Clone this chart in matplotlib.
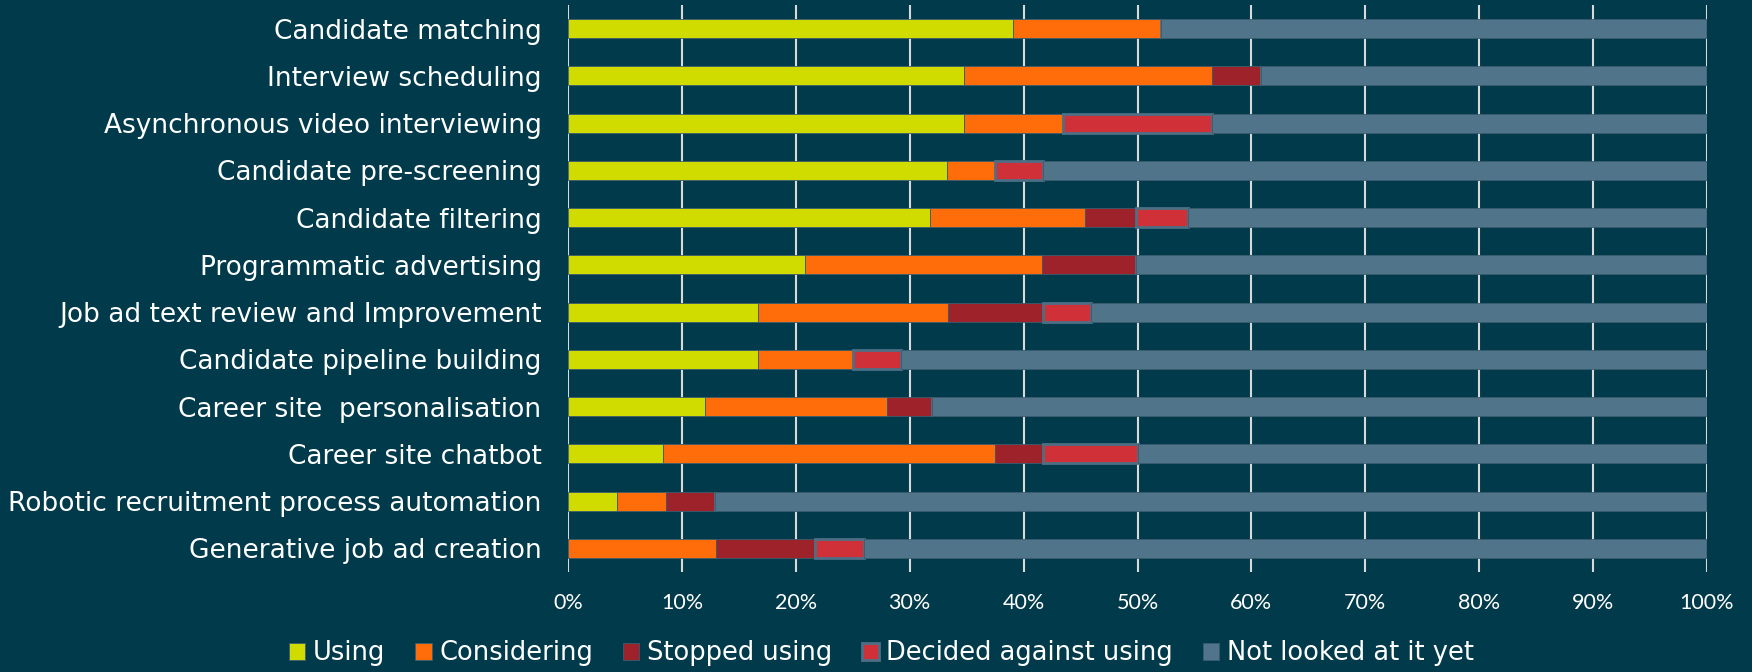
import numpy as np
import matplotlib
matplotlib.use('Agg')
import matplotlib.pyplot as plt
from matplotlib.ticker import PercentFormatter

# categories, top to bottom as in the chart
tasks = ['Candidate matching', 'Interview scheduling', 'Asynchronous video interviewing',
         'Candidate pre-screening', 'Candidate filtering', 'Programmatic advertising',
         'Job ad text review and Improvement', 'Candidate pipeline building',
         'Career site  personalisation', 'Career site chatbot',
         'Robotic recruitment process automation', 'Generative job ad creation']

# share of respondents (%) per answer
using = [39.1, 34.8, 34.8, 33.3, 31.8, 20.8, 16.7, 16.7, 12.0, 8.3, 4.3, 0.0]
considering = [13.0, 21.7, 8.7, 4.2, 13.6, 20.8, 16.7, 8.3, 16.0, 29.2, 4.3, 13.0]
stopped = [0.0, 4.3, 0.0, 0.0, 4.5, 8.3, 8.3, 0.0, 4.0, 4.2, 4.3, 8.7]
decided_against = [0.0, 0.0, 13.0, 4.2, 4.5, 0.0, 4.2, 4.2, 0.0, 8.3, 0.0, 4.3]
not_looked = [47.8, 39.1, 43.5, 58.3, 45.5, 50.0, 54.2, 70.8, 68.0, 50.0, 87.0, 73.9]

series_names = ['Using', 'Considering', 'Stopped using', 'Decided against using', 'Not looked at it yet']
colors = ['#D0DC00', '#FF6D0B', '#9E2229', '#D03139', '#50748A']

bg = '#013A4A'
plt.rcParams['font.family'] = ['DejaVu Sans']

fig = plt.figure(figsize=(17.52, 6.72), dpi=100, facecolor=bg)
ax = fig.add_axes([568 / 1752, 1 - 572 / 672, (1707 - 568) / 1752, (572 - 5) / 672])
ax.set_facecolor(bg)

y = np.arange(len(tasks))
data = [using, considering, stopped, decided_against, not_looked]
left = np.zeros(len(tasks))
handles = []
for name, vals, col in zip(series_names, data, colors):
    vals = np.array(vals)
    if name == 'Decided against using':
        ec, lw = '#4D6F85', 2.0
    else:
        ec, lw = '#3B5C6E', 0.6
    b = ax.barh(y, vals, left=left, height=0.4, color=col, edgecolor=ec, linewidth=lw,
                label=name, zorder=3)
    handles.append(b)
    left += vals

ax.set_xlim(0, 100)
ax.set_ylim(len(tasks) - 0.5, -0.5)
ax.set_yticks(y)
ax.set_yticklabels(tasks)
ax.set_xticks(np.arange(0, 101, 10))
ax.xaxis.set_major_formatter(PercentFormatter(decimals=0))
ax.tick_params(axis='y', length=0, pad=19, labelsize=19, labelcolor='white')
ax.tick_params(axis='x', length=0, pad=15, labelsize=15.5, labelcolor='white')
for t in ax.get_xticklabels():
    t.set_family(['Lato', 'DejaVu Sans'])
ax.grid(axis='x', color='#D9D9D9', linewidth=1.5, zorder=0)
for s in ax.spines.values():
    s.set_visible(False)

leg = fig.legend(handles=handles, labels=series_names, loc='center', bbox_to_anchor=(0.503, 0.028),
                 ncol=5, frameon=False, fontsize=18.5, labelcolor='white', handlelength=0.65,
                 handleheight=0.65, handletextpad=0.3, columnspacing=1.15)

fig.savefig('out.png', dpi=100, facecolor=bg)
